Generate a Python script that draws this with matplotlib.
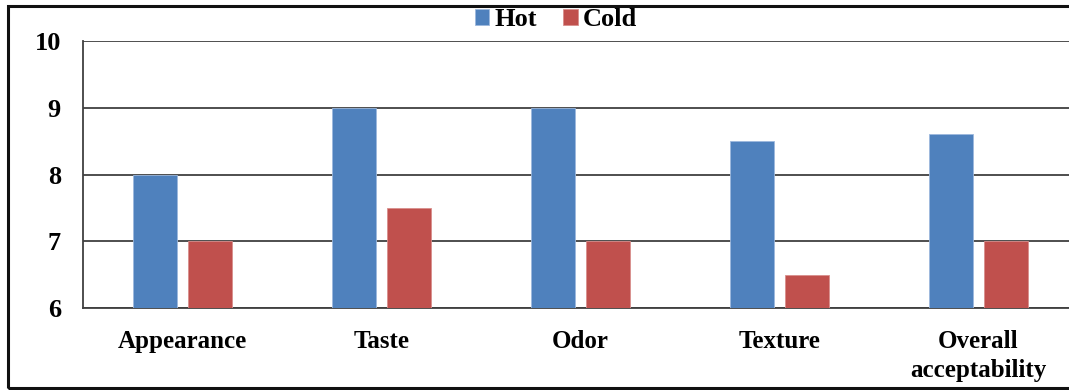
import matplotlib.pyplot as plt
import numpy as np
from matplotlib.patches import Rectangle

categories = ["Appearance", "Taste", "Odor", "Texture", "Overall\nacceptability"]
hot = [8.0, 9.0, 9.0, 8.5, 8.6]
cold = [7.0, 7.5, 7.0, 6.5, 7.0]
yticks = [6, 7, 8, 9, 10]

plt.rcParams["font.family"] = "Liberation Serif"
plt.rcParams["font.weight"] = "bold"

W, H = 1069, 390
fig = plt.figure(figsize=(W / 100, H / 100), dpi=100)
ax = fig.add_axes([83 / W, 82 / H, 995 / W, 267 / H])

x = np.arange(len(categories))
bw = 0.22
ax.bar(x - 0.14, hot, bw, bottom=0, color="#4F81BD", edgecolor="#9DB9DD",
       linewidth=0.6, label="Hot", zorder=3)
ax.bar(x + 0.14, cold, bw, bottom=0, color="#C0504D", edgecolor="#D98F8C",
       linewidth=0.6, label="Cold", zorder=3)

ax.set_xlim(-0.5, len(categories) - 0.5)
ax.set_ylim(6, 10)
ax.set_yticks(yticks)
ax.set_xticks(x)
ax.set_xticklabels(categories, fontsize=18, fontweight="bold", linespacing=1.3)
ax.tick_params(axis="y", length=0, pad=16, labelsize=19)
ax.tick_params(axis="x", length=0, pad=16)
ax.grid(axis="y", color="#404040", linewidth=1.3, zorder=0)

for s in ["top", "right"]:
    ax.spines[s].set_visible(False)
ax.spines["left"].set_color("#404040")
ax.spines["bottom"].set_color("#404040")
ax.spines["left"].set_linewidth(1.3)
ax.spines["bottom"].set_linewidth(1.3)

fig.legend(loc="center", bbox_to_anchor=(556 / W, 1 - 20 / H), ncol=2,
           frameon=False, fontsize=19, handlelength=0.55, handleheight=0.55,
           handletextpad=0.2, columnspacing=1.0)

# outer border around the whole chart
fig.patches.append(Rectangle((8 / W, 2 / H), 1.2, 382 / H, transform=fig.transFigure,
                             fill=False, edgecolor="#111111", linewidth=2.2))

fig.savefig("out.png", dpi=100)
